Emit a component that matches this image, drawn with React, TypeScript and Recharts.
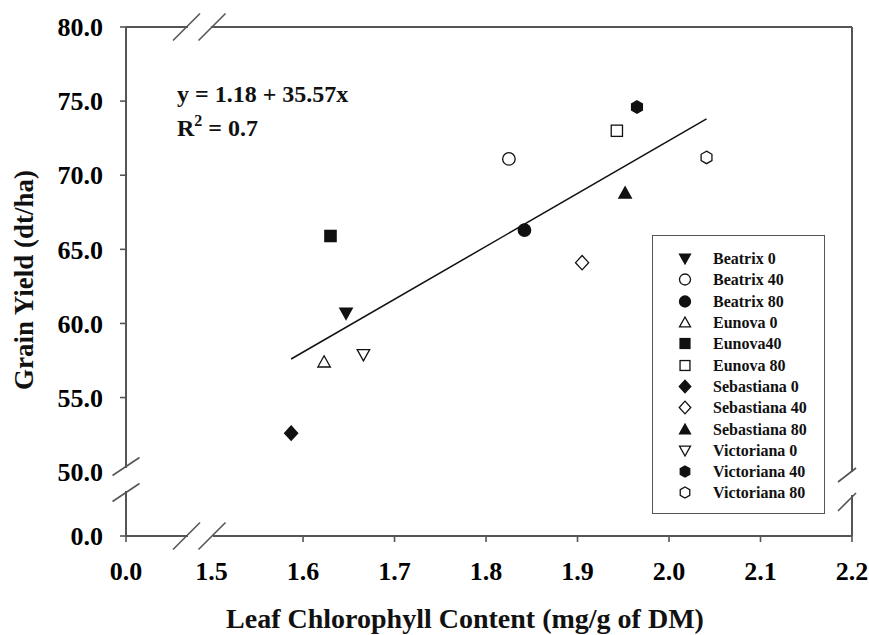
import React from "react";
import { ScatterChart, Scatter, XAxis, YAxis, Legend } from "recharts";

const W = 869;
const H = 635;
const FONT = '"Liberation Serif", "Times New Roman", serif';
const AXIS = "#555";
const INK = "#111";

// plot box (pixels) — used for the frame and axis-break decorations
const LEFT = 126;
const TOP = 27;
const RIGHT = 852;
const BOTTOM = 536;

// the "0.0" ticks sit before the axis breaks
const X_ZERO = 1.4065;
const Y_ZERO = 45.66;
const X_TICKS = [X_ZERO, 1.5, 1.6, 1.7, 1.8, 1.9, 2.0, 2.1, 2.2];
const Y_TICKS = [Y_ZERO, 50, 55, 60, 65, 70, 75, 80];

const CULTIVARS = [
  "Beatrix 0", "Beatrix 40", "Beatrix 80",
  "Eunova 0", "Eunova40", "Eunova 80",
  "Sebastiana 0", "Sebastiana 40", "Sebastiana 80",
  "Victoriana 0", "Victoriana 40", "Victoriana 80",
];
const SHAPES = [
  "triDown", "circle", "circle",
  "triUp", "square", "square",
  "diamond", "diamond", "triUp",
  "triDown", "hexagon", "hexagon",
];
const FILLED = [
  true, false, true,
  false, true, false,
  true, false, true,
  false, true, false,
];
const CHLOROPHYLL = [1.647, 1.825, 1.842, 1.623, 1.63, 1.943, 1.587, 1.905, 1.952, 1.666, 1.965, 2.041];
const YIELD = [60.7, 71.1, 66.3, 57.4, 65.9, 73.0, 52.6, 64.1, 68.8, 57.9, 74.6, 71.2];

// regression line end points
const FIT_X = [1.587, 2.041];
const FIT_Y = [57.6, 73.8];

function Marker({ cx, cy, kind, filled, size = 12 }: any) {
  const r = size / 2;
  const p = { fill: filled ? INK : "#fff", stroke: INK, strokeWidth: 1.3 };
  if (cx == null || cy == null) return <g />;
  switch (kind) {
    case "circle":
      return <circle cx={cx} cy={cy} r={r} {...p} />;
    case "square":
      return <rect x={cx - r * 0.9} y={cy - r * 0.9} width={r * 1.8} height={r * 1.8} {...p} />;
    case "diamond":
      return (
        <polygon
          points={`${cx},${cy - r * 1.15} ${cx + r * 1.05},${cy} ${cx},${cy + r * 1.15} ${cx - r * 1.05},${cy}`}
          {...p}
        />
      );
    case "triUp":
      return <polygon points={`${cx},${cy - r} ${cx + r},${cy + r * 0.8} ${cx - r},${cy + r * 0.8}`} {...p} />;
    case "triDown":
      return <polygon points={`${cx},${cy + r} ${cx + r},${cy - r * 0.8} ${cx - r},${cy - r * 0.8}`} {...p} />;
    case "hexagon": {
      const pts = [0, 1, 2, 3, 4, 5]
        .map((i) => {
          const a = (Math.PI / 3) * i - Math.PI / 2;
          return `${cx + r * Math.cos(a)},${cy + r * Math.sin(a)}`;
        })
        .join(" ");
      return <polygon points={pts} {...p} />;
    }
    default:
      return <g />;
  }
}

function LegendBox() {
  return (
    <div
      style={{
        boxSizing: "border-box",
        width: 173,
        height: 279,
        border: `1.5px solid ${AXIS}`,
        background: "#fff",
        paddingTop: 12,
        fontFamily: FONT,
        fontWeight: "bold",
        fontSize: 16,
        color: INK,
      }}
    >
      {CULTIVARS.map((name, i) => (
        <div key={name} style={{ display: "flex", alignItems: "center", height: 21.3 }}>
          <svg width={60} height={21} style={{ flex: "none" }}>
            <Marker cx={32} cy={10.5} kind={SHAPES[i]} filled={FILLED[i]} size={11} />
          </svg>
          <span style={{ whiteSpace: "nowrap", lineHeight: "21px" }}>{name}</span>
        </div>
      ))}
    </div>
  );
}

const tickStyle = { fill: "#000", fontSize: 26, fontWeight: "bold", fontFamily: FONT };
const fmt = (zero: number) => (v: number) => (v < zero + 0.01 ? "0.0" : v.toFixed(1));

function Slash({ x, y, dx = 13.5, dy = 13.5 }: any) {
  return <line x1={x - dx} y1={y + dy} x2={x + dx} y2={y - dy} stroke={AXIS} strokeWidth={1.6} />;
}

export default function App() {
  const fit = FIT_X.map((x, i) => ({ x, y: FIT_Y[i] }));

  return (
    <div style={{ position: "absolute", left: 0, top: 0, width: W, height: H, background: "#fff" }}>
      <ScatterChart
        width={W}
        height={H}
        margin={{ top: TOP, right: W - RIGHT, bottom: 39, left: 20 }}
      >
        <XAxis
          type="number"
          dataKey="x"
          domain={[X_ZERO, 2.2]}
          ticks={X_TICKS}
          interval={0}
          allowDataOverflow
          height={60}
          tick={tickStyle}
          tickFormatter={fmt(X_ZERO)}
          tickSize={6}
          tickMargin={20}
          tickLine={{ stroke: AXIS, strokeWidth: 1.6 }}
          axisLine={{ stroke: AXIS, strokeWidth: 2 }}
        />
        <YAxis
          type="number"
          dataKey="y"
          domain={[Y_ZERO, 80]}
          ticks={Y_TICKS}
          interval={0}
          allowDataOverflow
          width={106}
          tick={tickStyle}
          tickFormatter={fmt(Y_ZERO)}
          tickSize={6}
          tickMargin={17}
          tickLine={{ stroke: AXIS, strokeWidth: 1.6 }}
          axisLine={{ stroke: AXIS, strokeWidth: 2 }}
        />
        <Legend
          layout="vertical"
          align="center"
          verticalAlign="middle"
          content={() => <LegendBox />}
          wrapperStyle={{ position: "absolute", left: 652, top: 235, width: 173, height: 279 }}
        />
        <Scatter
          name="fit"
          data={fit}
          line={{ stroke: INK, strokeWidth: 1.5 }}
          shape={() => <g />}
          legendType="none"
          isAnimationActive={false}
        />
        {CULTIVARS.map((name, i) => (
          <Scatter
            key={name}
            name={name}
            data={[{ x: CHLOROPHYLL[i], y: YIELD[i] }]}
            shape={(props: any) => (
              <Marker cx={props.cx} cy={props.cy} kind={SHAPES[i]} filled={FILLED[i]} size={12.5} />
            )}
            isAnimationActive={false}
          />
        ))}
      </ScatterChart>

      <svg
        width={W}
        height={H}
        style={{ position: "absolute", left: 0, top: 0, pointerEvents: "none" }}
      >
        {/* frame */}
        <line x1={LEFT} y1={TOP} x2={RIGHT} y2={TOP} stroke={AXIS} strokeWidth={2} />
        <line x1={RIGHT} y1={TOP} x2={RIGHT} y2={BOTTOM} stroke={AXIS} strokeWidth={2} />

        {/* axis breaks */}
        <rect x={188} y={TOP - 4} width={23} height={8} fill="#fff" />
        <rect x={188} y={BOTTOM - 4} width={25} height={14} fill="#fff" />
        <rect x={LEFT - 9} y={468} width={13} height={23} fill="#fff" />
        <rect x={RIGHT - 4} y={472} width={8} height={23} fill="#fff" />
        <Slash x={186.5} y={TOP} />
        <Slash x={212} y={TOP} />
        <Slash x={186.5} y={BOTTOM} />
        <Slash x={212} y={BOTTOM} />
        <Slash x={LEFT} y={466.5} dy={9} />
        <Slash x={LEFT} y={492.5} dy={9} />
        <Slash x={RIGHT - 5} y={475} dx={9} dy={7} />
        <Slash x={RIGHT - 5} y={502} dx={9} dy={9} />

        {/* equation */}
        <text x={177} y={102} fontFamily={FONT} fontWeight="bold" fontSize={24} fill={INK}>
          y = 1.18 + 35.57x
        </text>
        <text x={177} y={136} fontFamily={FONT} fontWeight="bold" fontSize={24} fill={INK}>
          R<tspan fontSize={16} dy={-10}>2</tspan>
          <tspan dy={10}> = 0.7</tspan>
        </text>

        {/* axis titles */}
        <text
          x={465}
          y={628}
          textAnchor="middle"
          fontFamily={FONT}
          fontWeight="bold"
          fontSize={28}
          fill={INK}
        >
          Leaf Chlorophyll Content (mg/g of DM)
        </text>
        <text
          x={33}
          y={280}
          transform="rotate(-90 33 280)"
          textAnchor="middle"
          fontFamily={FONT}
          fontWeight="bold"
          fontSize={27}
          fill={INK}
        >
          Grain Yield (dt/ha)
        </text>
      </svg>
    </div>
  );
}
